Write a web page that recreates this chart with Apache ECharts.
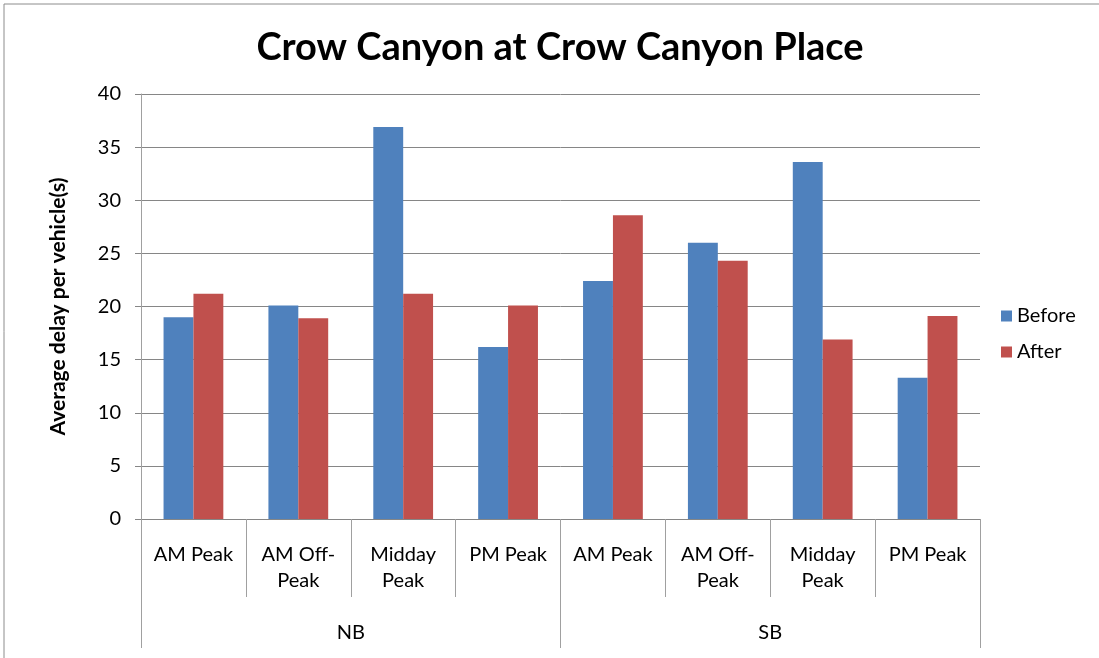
<!DOCTYPE html>
<html>
<head>
<meta charset="utf-8">
<script src="https://cdn.jsdelivr.net/npm/echarts@6/dist/echarts.min.js"></script>
<style>
  html, body { margin: 0; padding: 0; background: #fff; }
  #chart { width: 1099px; height: 658px; }
</style>
</head>
<body>
<div id="chart"></div>
<script>
// chart data
const periods = ["AM Peak", "AM Off-\nPeak", "Midday\nPeak", "PM Peak",
                 "AM Peak", "AM Off-\nPeak", "Midday\nPeak", "PM Peak"];
const directions = ["NB", "SB"];
const before = [19.0, 20.1, 36.9, 16.2, 22.4, 26.0, 33.6, 13.3];
const after = [21.2, 18.9, 21.2, 20.1, 28.6, 24.3, 16.9, 19.1];

const font = "Lato";
const gray = "#868686";

const chart = echarts.init(document.getElementById("chart"));
chart.setOption({
  animation: false,
  color: ["#4F81BD", "#C0504D"],
  textStyle: { fontFamily: font },
  title: {
    text: "Crow Canyon at Crow Canyon Place",
    left: 555,
    textAlign: "center",
    top: 24,
    textStyle: { fontFamily: font, fontSize: 38, fontWeight: "bold", color: "#000" }
  },
  legend: {
    orient: "vertical",
    left: 996,
    top: 301,
    itemWidth: 11,
    itemHeight: 11,
    itemGap: 16,
    icon: "rect",
    textStyle: { fontFamily: font, fontSize: 20, color: "#000" },
    data: ["Before", "After"]
  },
  grid: { left: 141, right: 119, top: 94, bottom: 139 },
  xAxis: [
    {
      type: "category",
      position: "bottom",
      data: periods,
      axisLine: { show: true, lineStyle: { color: gray } },
      axisTick: { show: true, interval: 0, length: 78, lineStyle: { color: "#a0a0a0" } },
      axisLabel: { interval: 0, margin: 23, fontSize: 20, lineHeight: 26, color: "#000" }
    },
    {
      type: "category",
      position: "bottom",
      data: directions,
      axisLine: { show: false },
      axisTick: { show: true, interval: 0, length: 129, lineStyle: { color: "#a0a0a0" } },
      axisLabel: { interval: 0, margin: 104, fontSize: 20, color: "#000" }
    }
  ],
  yAxis: {
    type: "value",
    min: 0,
    max: 40,
    interval: 5,
    name: "Average delay per vehicle(s)",
    nameLocation: "middle",
    nameGap: 72,
    nameTextStyle: { fontFamily: font, fontSize: 21, fontWeight: "bold", color: "#000" },
    axisLine: { show: true, lineStyle: { color: "#a0a0a0" } },
    axisTick: { show: true, length: 6, lineStyle: { color: gray } },
    axisLabel: { margin: 20, fontSize: 20, color: "#000" },
    splitLine: { show: true, lineStyle: { color: gray, width: 1 } }
  },
  series: [
    { name: "Before", type: "bar", data: before, barGap: "0%", barCategoryGap: "43%" },
    { name: "After", type: "bar", data: after, barGap: "0%", barCategoryGap: "43%" }
  ],
  graphic: [
    {
      type: "rect",
      shape: { x: 4, y: 4, width: 1200, height: 700 },
      style: { fill: "none", stroke: "#8c8c8c", lineWidth: 1 },
      silent: true
    }
  ]
});
</script>
</body>
</html>
